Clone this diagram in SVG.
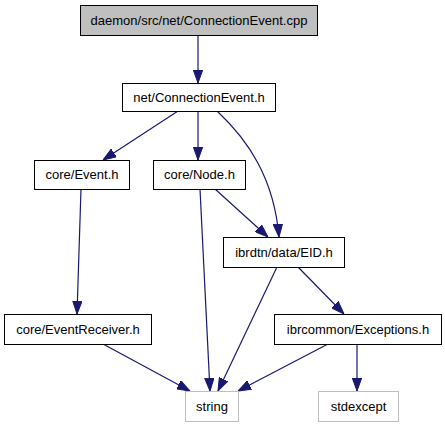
<svg xmlns="http://www.w3.org/2000/svg" width="445" height="427" viewBox="0 0 445 427">
<style>
.n rect{fill:#fff;stroke:#000;stroke-width:1}
.g rect{fill:#fff;stroke:#bfbfbf;stroke-width:1}
.r rect{fill:#bfbfbf;stroke:#000;stroke-width:1}
text{font-family:"Liberation Sans",Arial,sans-serif;font-size:13px;fill:#000;text-anchor:middle}
.e path{fill:none;stroke:#191970;stroke-width:1.2}
</style>
<defs>
<marker id="a" viewBox="0 0 13 10" refX="13" refY="5" markerWidth="13" markerHeight="10" markerUnits="userSpaceOnUse" orient="auto">
<path d="M0,0.3 L13,5 L0,9.7 z" fill="#191970" stroke="#191970" stroke-width="1"/>
</marker>
</defs>
<rect width="445" height="427" fill="#fff"/>
<g id="connectors" class="e">
<path d="M198,35 L198,83" marker-end="url(#a)"/>
<path d="M178,111 L103,160" marker-end="url(#a)"/>
<path d="M198,111 L198,160" marker-end="url(#a)"/>
<path d="M217,111 C248,140 274,178 279,237" marker-end="url(#a)"/>
<path d="M215,189 L268,237" marker-end="url(#a)"/>
<path d="M200,189 L210,391" marker-end="url(#a)"/>
<path d="M81,189 L77,314" marker-end="url(#a)"/>
<path d="M277,267 L218,391" marker-end="url(#a)"/>
<path d="M298,267 L344,314" marker-end="url(#a)"/>
<path d="M103,344 L190,391" marker-end="url(#a)"/>
<path d="M328,344 L238,391" marker-end="url(#a)"/>
<path d="M357,344 L357,391" marker-end="url(#a)"/>
</g>
<g id="node-cpp" class="r"><rect x="80.5" y="5.5" width="237" height="30"/><text x="199" y="25">daemon/src/net/ConnectionEvent.cpp</text></g>
<g id="node-connevent" class="n"><rect x="122.5" y="83.5" width="153" height="28"/><text x="199" y="102">net/ConnectionEvent.h</text></g>
<g id="node-event" class="n"><rect x="34.5" y="160.5" width="95" height="29"/><text x="82" y="179">core/Event.h</text></g>
<g id="node-node" class="n"><rect x="153.5" y="160.5" width="92" height="29"/><text x="199.5" y="179">core/Node.h</text></g>
<g id="node-eid" class="n"><rect x="223.5" y="237.5" width="121" height="30"/><text x="284" y="257">ibrdtn/data/EID.h</text></g>
<g id="node-eventreceiver" class="n"><rect x="4.5" y="314.5" width="147" height="30"/><text x="78" y="334">core/EventReceiver.h</text></g>
<g id="node-exceptions" class="n"><rect x="274.5" y="314.5" width="167" height="30"/><text x="358" y="334">ibrcommon/Exceptions.h</text></g>
<g id="node-string" class="g"><rect x="185.5" y="391.5" width="53" height="30"/><text x="212" y="411">string</text></g>
<g id="node-stdexcept" class="g"><rect x="318.5" y="391.5" width="80" height="30"/><text x="358.5" y="411">stdexcept</text></g>
</svg>
